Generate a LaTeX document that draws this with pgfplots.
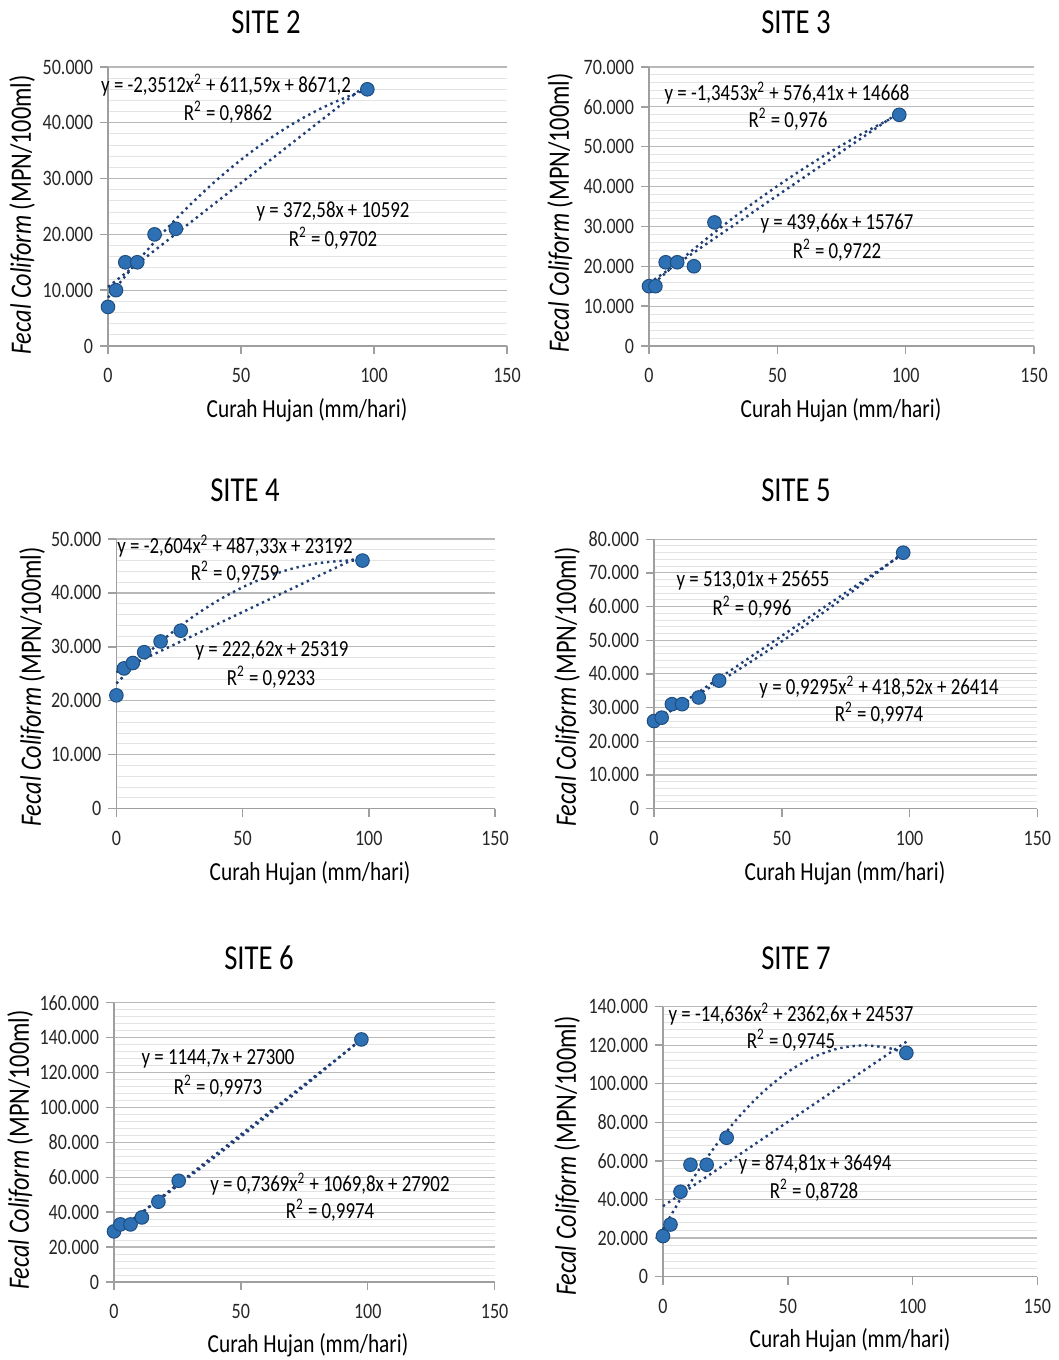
\documentclass[border=0pt]{standalone}
\usepackage{fontspec}
\setmainfont{Carlito}[FakeStretch=0.82]
\usepackage{pgfplots}
\pgfplotsset{compat=1.18}
\definecolor{ptfill}{RGB}{46,112,180}
\definecolor{ptedge}{RGB}{30,78,128}
\definecolor{trend}{RGB}{31,62,118}
\newcommand\ttl{\fontsize{17.5}{19}\selectfont}
\newcommand\lab{\fontsize{13}{15}\selectfont}
\newcommand\ylab{\fontsize{14.8}{16}\selectfont}
\newcommand\eqf{\fontsize{11.5}{13}\selectfont}
\pgfplotsset{
 site/.style={
  scale only axis, anchor=south west,
  xmin=0, xmax=150, ymin=0,
  xtick={0,50,100,150},
  axis x line*=bottom, axis y line*=left,
  axis line style={draw=gray!75, line width=0.7pt, -},
  ymajorgrids, yminorgrids, minor y tick num=4,
  major grid style={gray!55, line width=0.6pt},
  minor grid style={gray!22, line width=0.5pt},
  tick style={gray!75, line width=0.7pt},
  tick align=outside, major tick length=4pt, minor tick length=0pt,
  scaled y ticks=false,
  yticklabel style={/pgf/number format/fixed, /pgf/number format/1000 sep={.}},
  xticklabel style={yshift=-3.8pt},
  /pgf/number format/assume math mode=true,
  tick label style={font=\fontsize{11}{12}\selectfont, text=black!85},
  clip=false,
 },
 pts/.style={only marks, mark=*, mark size=3.4pt, mark options={fill=ptfill, draw=ptedge, line width=0.5pt}},
 tr/.style={trend, line width=1.2pt, dash pattern=on 1.2pt off 1.9pt},
}
\begin{document}
\begin{tikzpicture}
\useasboundingbox (0,0) rectangle (529.5pt,680pt);
% SITE 2
\begin{axis}[site, at={(54pt,507pt)}, width=199.5pt, height=139.5pt, ymax=50000, ytick={0,10000,...,50000}]
\addplot[tr] coordinates {(0,10592) (97.5,46918.6)};
\addplot[tr, smooth] coordinates {(0,8671.2) (10,14552) (20,19962.5) (30,24902.8) (40,29372.9) (50,33372.7) (60,36902.3) (70,39961.6) (80,42550.7) (90,44669.6) (97.5,45950.1)};
\addplot[pts] coordinates {(0,7000) (3,10000) (6.5,15000) (11,15000) (17.5,20000) (25.5,21000) (97.5,46000)};
\end{axis}
% SITE 3
\begin{axis}[site, at={(324.5pt,507pt)}, width=192.5pt, height=139.5pt, ymax=70000, ytick={0,10000,...,70000}]
\addplot[tr] coordinates {(0,15767) (97.5,58633.9)};
\addplot[tr, smooth] coordinates {(0,14668) (10,20297.6) (20,25658.1) (30,30749.5) (40,35571.9) (50,40125.3) (60,44409.5) (70,48424.7) (80,52170.9) (90,55648) (97.5,58079.2)};
\addplot[pts] coordinates {(0,15000) (2.5,15000) (6.5,21000) (11,21000) (17.5,20000) (25.5,31000) (97.5,58000)};
\end{axis}
% SITE 4
\begin{axis}[site, at={(58.2pt,275.7pt)}, width=189.3pt, height=134.8pt, ymax=50000, ytick={0,10000,...,50000}]
\addplot[tr] coordinates {(0,25319) (97.5,47024.5)};
\addplot[tr, smooth] coordinates {(0,23192) (10,27804.9) (20,31897) (30,35468.3) (40,38518.8) (50,41048.5) (60,43057.4) (70,44545.5) (80,45512.8) (90,45959.3) (97.5,45952.4)};
\addplot[pts] coordinates {(0,21000) (3,26000) (6.5,27000) (11,29000) (17.5,31000) (25.5,33000) (97.5,46000)};
\end{axis}
% SITE 5
\begin{axis}[site, at={(327pt,275.7pt)}, width=191.7pt, height=134.7pt, ymax=80000, ytick={0,10000,...,80000}]
\addplot[tr] coordinates {(0,25655) (97.5,75673.5)};
\addplot[tr, smooth] coordinates {(0,26414) (10,30692.2) (20,35156.2) (30,39806.2) (40,44642) (50,49663.8) (60,54871.4) (70,60265) (80,65844.4) (90,71609.8) (97.5,76055.8)};
\addplot[pts] coordinates {(0,26000) (3,27000) (7,31000) (11,31000) (17.5,33000) (25.5,38000) (97.5,76000)};
\end{axis}
% SITE 6
\begin{axis}[site, at={(57pt,39pt)}, width=190.3pt, height=139.6pt, ymax=160000, ytick={0,20000,...,160000}]
\addplot[tr] coordinates {(0,27300) (97.5,138908.3)};
\addplot[tr, smooth] coordinates {(0,27902) (10,38673.7) (20,49592.8) (30,60659.2) (40,71873) (50,83234.3) (60,94742.8) (70,106398.8) (80,118202.2) (90,130152.9) (97.5,139212.7)};
\addplot[pts] coordinates {(0,29000) (2.5,33000) (6.5,33000) (11,37000) (17.5,46000) (25.5,58000) (97.5,139000)};
\end{axis}
% SITE 7
\begin{axis}[site, at={(331.5pt,41.7pt)}, width=187.2pt, height=135pt, ymax=140000, ytick={0,20000,...,140000}]
\addplot[tr] coordinates {(0,36494) (97.5,121788)};
\addplot[tr, smooth] coordinates {(0,24537) (10,46699.4) (20,65934.6) (30,82242.6) (40,95623.4) (50,106077) (60,113603.4) (70,118202.6) (80,119874.6) (90,118619.4) (97.5,115757)};
\addplot[pts] coordinates {(0,21000) (3,27000) (7,44000) (11,58000) (17.5,58000) (25.5,72000) (97.5,116000)};
\end{axis}
\begin{scope}[shift={(0pt,680pt)}, x=0.5pt, y=-0.5pt, every node/.style={inner sep=0pt}]
% titles
\node at (266,22) {\ttl SITE 2};
\node at (796,22) {\ttl SITE 3};
\node at (245,490) {\ttl SITE 4};
\node at (796,490) {\ttl SITE 5};
\node at (259,958) {\ttl SITE 6};
\node at (796,958) {\ttl SITE 7};
% x labels
\node at (307,410) {\lab Curah Hujan (mm/hari)};
\node at (841,410) {\lab Curah Hujan (mm/hari)};
\node at (310,873) {\lab Curah Hujan (mm/hari)};
\node at (845,873) {\lab Curah Hujan (mm/hari)};
\node at (308,1345) {\lab Curah Hujan (mm/hari)};
\node at (850,1340) {\lab Curah Hujan (mm/hari)};
% y labels
\node[rotate=90] at (22,215) {\ylab\textit{Fecal Coliform} (MPN/100ml)};
\node[rotate=90] at (560,213) {\ylab\textit{Fecal Coliform} (MPN/100ml)};
\node[rotate=90] at (32,687) {\ylab\textit{Fecal Coliform} (MPN/100ml)};
\node[rotate=90] at (567,687) {\ylab\textit{Fecal Coliform} (MPN/100ml)};
\node[rotate=90] at (20,1150) {\ylab\textit{Fecal Coliform} (MPN/100ml)};
\node[rotate=90] at (567,1156) {\ylab\textit{Fecal Coliform} (MPN/100ml)};
% equations
\node at (226,85) {\eqf y = -2,3512x\textsuperscript{2} + 611,59x + 8671,2};
\node at (228,112) {\eqf R\textsuperscript{2} = 0,9862};
\node at (333,212) {\eqf y = 372,58x + 10592};
\node at (333,238) {\eqf R\textsuperscript{2} = 0,9702};
\node at (787,93) {\eqf y = -1,3453x\textsuperscript{2} + 576,41x + 14668};
\node at (788,119) {\eqf R\textsuperscript{2} = 0,976};
\node at (837,224) {\eqf y = 439,66x + 15767};
\node at (837,250) {\eqf R\textsuperscript{2} = 0,9722};
\node at (235,546) {\eqf y = -2,604x\textsuperscript{2} + 487,33x + 23192};
\node at (235,572) {\eqf R\textsuperscript{2} = 0,9759};
\node at (272,651) {\eqf y = 222,62x + 25319};
\node at (271,677) {\eqf R\textsuperscript{2} = 0,9233};
\node at (753,581) {\eqf y = 513,01x + 25655};
\node at (752,607) {\eqf R\textsuperscript{2} = 0,996};
\node at (879,687) {\eqf y = 0,9295x\textsuperscript{2} + 418,52x + 26414};
\node at (879,713) {\eqf R\textsuperscript{2} = 0,9974};
\node at (218,1059) {\eqf y = 1144,7x + 27300};
\node at (218,1086) {\eqf R\textsuperscript{2} = 0,9973};
\node at (330,1184) {\eqf y = 0,7369x\textsuperscript{2} + 1069,8x + 27902};
\node at (330,1210) {\eqf R\textsuperscript{2} = 0,9974};
\node at (791,1014) {\eqf y = -14,636x\textsuperscript{2} + 2362,6x + 24537};
\node at (791,1040) {\eqf R\textsuperscript{2} = 0,9745};
\node at (815,1164) {\eqf y = 874,81x + 36494};
\node at (814,1190) {\eqf R\textsuperscript{2} = 0,8728};
\end{scope}
\end{tikzpicture}
\end{document}
